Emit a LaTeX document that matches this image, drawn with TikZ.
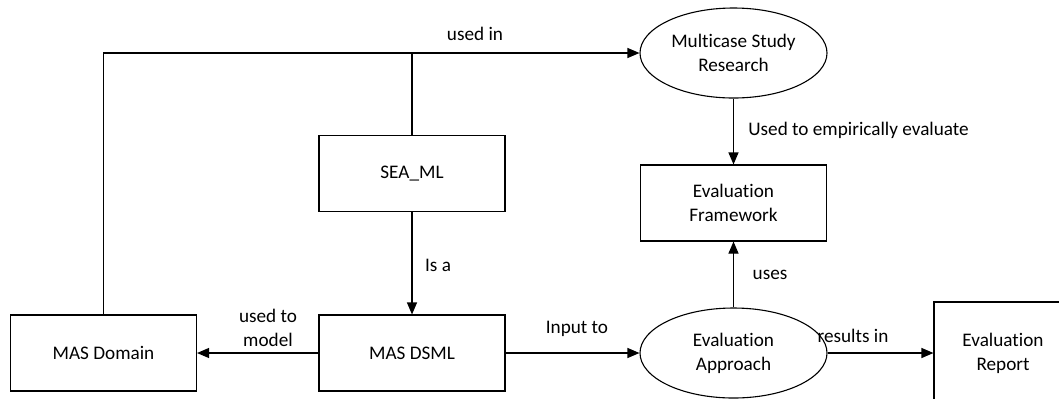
\documentclass[tikz,border=0pt]{standalone}
\usepackage{fontspec}
\setmainfont{Carlito}[Ligatures=NoCommon]
\usetikzlibrary{shapes.geometric,arrows.meta}
\begin{document}
\begin{tikzpicture}[x=0.5pt,y=-0.5pt,
  txt/.style={font=\fontsize{9.6}{12}\selectfont},
  box/.style={txt,draw,line width=0.55pt,minimum width=93pt,minimum height=38pt,inner sep=0pt,align=center},
  oval/.style={txt,draw,ellipse,line width=0.55pt,minimum width=93.5pt,minimum height=45pt,inner sep=0pt,align=center},
  conn/.style={line width=0.55pt,-{Triangle[length=6pt,width=5pt]}},
  plain/.style={line width=0.55pt},
  lbl/.style={txt,inner sep=0pt,align=center}]
\useasboundingbox (0,0) rectangle (1059,398);
\node[box] (sea) at (412,173.5) {SEA\_ML};
\node[box] (dom) at (103.5,353) {MAS Domain};
\node[box] (dsml) at (412,353) {MAS DSML};
\node[oval] (multi) at (733.5,53) {Multicase Study\\Research};
\node[box] (frame) at (733.5,203) {Evaluation\\Framework};
\node[oval] (appr) at (733.5,353) {Evaluation\\Approach};
\begin{scope}
\clip (0,0) rectangle (1059,398);
\node[box,minimum width=69pt,minimum height=51.5pt] (rep) at (1003,353.5) {Evaluation\\Report};
\end{scope}
\draw[conn] (dom.north) |- (multi.west);
\draw[plain] (sea.north) -- (sea.north |- multi.west);
\draw[conn] (multi.south) -- (frame.north);
\draw[conn] (appr.north) -- (frame.south);
\draw[conn] (sea.south) -- (dsml.north);
\draw[conn] (dsml.west) -- (dom.east);
\draw[conn] (dsml.east) -- (appr.west);
\draw[conn] (appr.east) -- (appr.east -| rep.west);
\node[lbl] (l1) at (475,34) {used in};
\node[lbl,anchor=west] (l2) at (748,130) {Used to empirically evaluate};
\node[lbl] (l3) at (770,275) {uses};
\node[lbl] (l4) at (438,265) {Is a};
\node[lbl] (l5) at (268,328) {used to\\model};
\node[lbl] (l6) at (577,329) {Input to};
\node[lbl] (l7) at (853,336) {results in};
\end{tikzpicture}
\end{document}
